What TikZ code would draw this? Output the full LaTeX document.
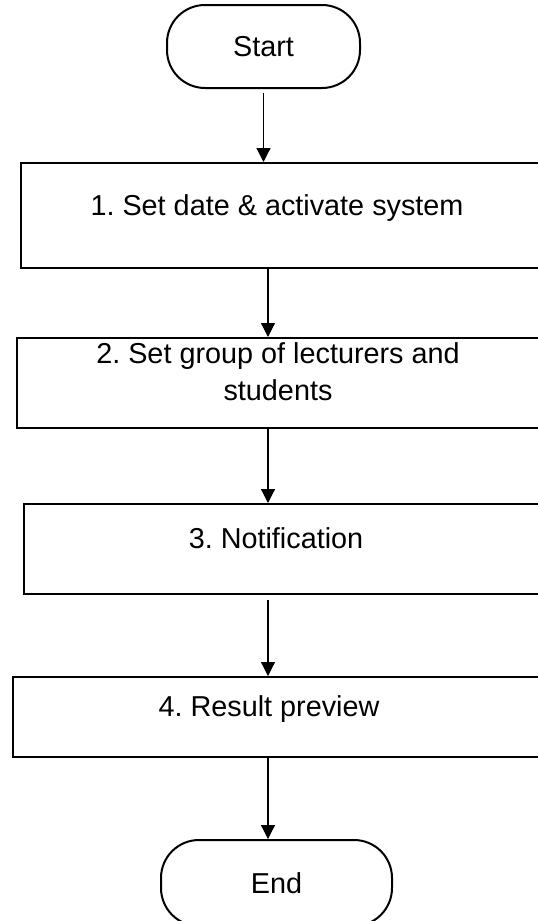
\documentclass[tikz,border=0pt]{standalone}
\usepackage{fontspec}
\setmainfont{Liberation Sans}
\usetikzlibrary{arrows.meta}

\begin{document}
\frenchspacing
\begin{tikzpicture}[x=1pt,y=-1pt,
  font=\fontsize{28.8}{37}\selectfont,
  terminal/.style={draw,line width=2pt,rounded corners=38pt,inner sep=0pt},
  stepbox/.style={draw,line width=2.4pt,anchor=north west,inner sep=0pt,minimum width=535pt},
  flow/.style={-{Triangle[length=14pt,width=14pt]},line width=1.2pt}]
\useasboundingbox (0,0) rectangle (538,921);
\clip (0,0) rectangle (538,921);

\node[terminal,minimum width=193pt,minimum height=83pt] (start) at (263.5,46.5) {Start};
\node[terminal,minimum width=231pt,minimum height=86pt] (end) at (276.5,883) {End};

% the four steps, text sits a little above the middle
\node[stepbox,minimum height=105pt] (box1) at (20,162) {};
\node[stepbox,minimum height=90pt] (box2) at (16,337) {};
\node[stepbox,minimum height=90pt] (box3) at (23,503) {};
\node[stepbox,minimum height=80pt] (box4) at (12,676) {};
\node[anchor=base] (txt1) at (277,215) {1. Set date \& activate system};
\node[align=center] (txt2) at (278,372) {2. Set group of lecturers and\\students};
\node[anchor=base] (txt3) at (276,548) {3. Notification};
\node[anchor=base] (txt4) at (269,716) {4. Result preview};

\coordinate (spine) at (268,0);
\draw[flow,shorten <=4pt] (start.south) -- (start.south |- box1.north);
\draw[flow] (spine |- box1.south) -- (spine |- box2.north);
\draw[flow] (spine |- box2.south) -- (spine |- box3.north);
\draw[flow,shorten <=5pt] (spine |- box3.south) -- (spine |- box4.north);
\draw[flow] (spine |- box4.south) -- (spine |- end.north);
\end{tikzpicture}
\end{document}
